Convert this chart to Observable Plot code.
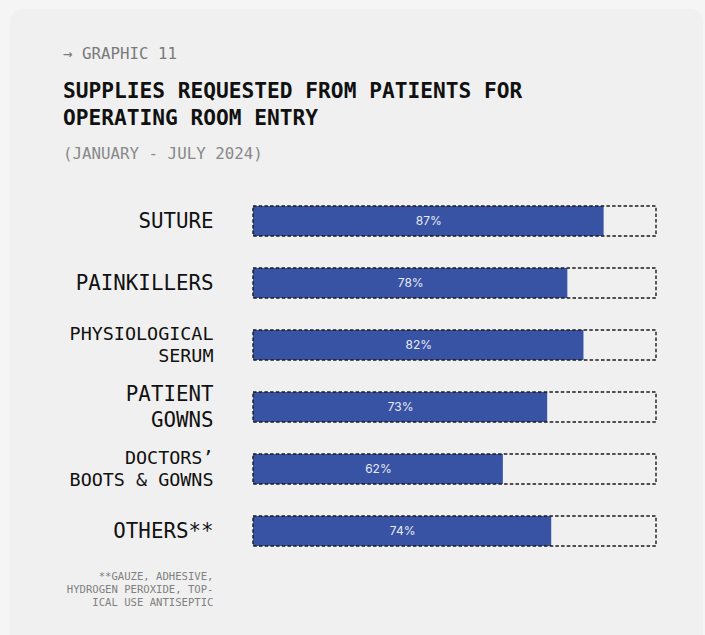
<!DOCTYPE html>
<html>
<head>
<meta charset="utf-8">
<script src="https://cdn.jsdelivr.net/npm/d3@7"></script>
<script src="https://cdn.jsdelivr.net/npm/@observablehq/plot@0.6"></script>
<style>
  html, body { margin: 0; padding: 0; background: #f5f5f5; width: 705px; height: 635px; overflow: hidden; }
  #card { position: absolute; left: 10px; top: 9px; width: 693px; height: 700px; background: #f0f0f0; border-radius: 13px; }
  .t { position: absolute; left: 63px; font-family: "DejaVu Sans Mono", monospace; white-space: nowrap; }
  #kicker { top: 45.8px; font-size: 15.8px; line-height: 16px; color: #7a7a7a; }
  #title { top: 77.8px; font-size: 21.2px; line-height: 26.7px; font-weight: bold; color: #111; }
  #sub { top: 145.5px; font-size: 15.8px; line-height: 16px; color: #888; }
  #note { position: absolute; right: calc(705px - 213.5px); top: 569.7px; font-family: "DejaVu Sans Mono", monospace; font-size: 10.6px; line-height: 13.3px; color: #808080; text-align: right; white-space: pre; }
  #chart { position: absolute; left: 0; top: 180px; }
</style>
</head>
<body>
<div id="card"></div>
<div class="t" id="kicker">→ GRAPHIC 11</div>
<div class="t" id="title">SUPPLIES REQUESTED FROM PATIENTS FOR<br>OPERATING ROOM ENTRY</div>
<div class="t" id="sub">(JANUARY - JULY 2024)</div>
<div id="note"></div>
<div id="chart"></div>
<script>
const categories = ["SUTURE", "PAINKILLERS", "PHYSIOLOGICAL\nSERUM", "PATIENT\nGOWNS", "DOCTORS’\nBOOTS & GOWNS", "OTHERS**"];
const values = [87, 78, 82, 73, 62, 74];
const footnote = ["**GAUZE, ADHESIVE,", "HYDROGEN PEROXIDE, TOP-", "ICAL USE ANTISEPTIC"];

const data = categories.map((c, i) => ({cat: c, value: values[i]}));
document.getElementById("note").textContent = footnote.join("\n");

const longest = s => d3.max(s.split("\n"), l => l.length);

const chart = Plot.plot({
  width: 705,
  height: 400,
  marginLeft: 253,
  marginRight: 49,
  marginTop: 8.75,
  marginBottom: 16.25,
  style: {background: "transparent", overflow: "visible"},
  x: {domain: [0, 100], axis: null},
  y: {domain: categories, paddingInner: 0.52, paddingOuter: 0.26, axis: null},
  marks: [
    Plot.barX(data, {x: "value", y: "cat", fill: "#3953a4"}),
    Plot.barX(data, {x1: 0, x2: 100, y: "cat", fill: "none", stroke: "#1a1a1a", strokeWidth: 1.4, strokeDasharray: "3.5,2.2"}),
    Plot.text(data, {x: d => d.value / 2, y: "cat", text: d => d.value + "%", fill: "#e8eaf4", fontSize: 12, fontFamily: "Inter, 'Noto Sans', sans-serif"}),
    Plot.text(data, {
      x: 0, y: "cat", text: "cat", dx: -40, dy: -1.5, textAnchor: "end",
      fill: "#111", fontFamily: "'DejaVu Sans Mono', monospace",
      fontSize: d => longest(d.cat) > 11 ? 18.4 : 20.8,
      lineHeight: 1.22
    })
  ]
});
document.getElementById("chart").appendChild(chart);
</script>
</body>
</html>
